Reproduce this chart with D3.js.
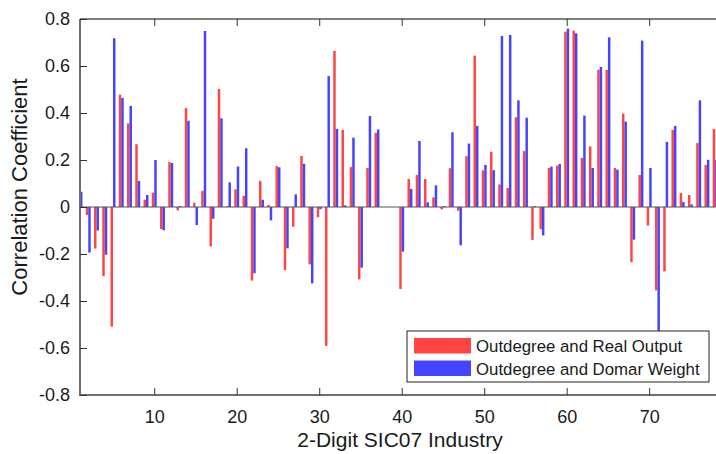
<!DOCTYPE html>
<html>
  <head>
    <meta charset="utf-8">
    <title>Correlation by industry</title>
    <style>
      body { margin: 0; background: #fff; }
      text { font-family: "Liberation Sans", Arial, Helvetica, sans-serif; fill: #1a1a1a; }
    </style>
  </head>
  <body>
    <script src="https://d3js.org/d3.v7.min.js"></script>
    <svg id="chart" width="716" height="454"></svg>
    <script>

      // Data: 2-digit SIC07 industries 1..78
      var industries = d3.range(1, 79);

      // Outdegree and Real Output (red)
      var realOutput = [
        0, -0.034, -0.177, -0.294, -0.509, 0.478, 0.356, 0.267, 0.031, 0.061,
        -0.094, 0.191, -0.014, 0.421, 0.018, 0.069, -0.168, 0.502, 0.004, 0.075,
        0.048, -0.313, 0.111, 0.009, 0.174, -0.268, -0.084, 0.217, -0.244, -0.043,
        -0.591, 0.664, 0.328, 0.170, -0.308, 0.166, 0.316, 0, 0, -0.349,
        0.119, 0.136, 0.119, 0.041, -0.010, 0.165, -0.016, 0.216, 0.644, 0.156,
        0.235, 0.096, 0.081, 0.382, 0.238, -0.140, -0.094, 0.166, 0.176, 0.746,
        0.750, 0.209, 0.258, 0.584, 0.583, 0.166, 0.397, -0.235, 0.136, -0.079,
        -0.355, -0.274, 0.328, 0.060, 0.051, 0.272, 0.179, 0.332
      ];

      // Outdegree and Domar Weight (blue)
      var domarWeight = [
        0.065, -0.194, -0.100, -0.203, 0.718, 0.464, 0.430, 0.111, 0.051, 0.200,
        -0.099, 0.187, 0.004, 0.367, -0.077, 0.749, -0.050, 0.377, 0.105, 0.172,
        0.250, -0.282, 0.031, -0.057, 0.169, -0.176, 0.054, 0.184, -0.325, -0.009,
        0.557, 0.332, 0.007, 0.295, -0.258, 0.387, 0.330, 0, 0, -0.190,
        0.077, 0.281, 0.020, 0.092, 0.004, 0.318, -0.163, 0.270, 0.345, 0.179,
        0.157, 0.728, 0.732, 0.454, 0.380, 0.004, -0.121, 0.172, 0.183, 0.759,
        0.739, 0.389, 0.166, 0.596, 0.722, 0.159, 0.363, -0.139, 0.708, 0.166,
        -0.56, 0.277, 0.345, 0.021, 0.011, 0.454, 0.201, 0.2
      ];

      var xTicks = [10, 20, 30, 40, 50, 60, 70];
      var yTicks = [-0.8, -0.6, -0.4, -0.2, 0, 0.2, 0.4, 0.6, 0.8];

      var seriesNames = ["Outdegree and Real Output", "Outdegree and Domar Weight"];
      var seriesColors = ["#ff4444", "#4444ff"];

      // The svg
      var svg = d3.select("#chart");
      var pLeft = 80, pRight = 716, pTop = 19, pBottom = 395;

      var x = d3.scaleLinear().domain([1, 78.1]).range([pLeft, pRight]);
      var y = d3.scaleLinear().domain([-0.8, 0.8]).range([pBottom, pTop]);
      var barW = 0.3;

      svg.append("defs").append("clipPath").attr("id", "plot")
        .append("rect")
          .attr("x", pLeft).attr("y", pTop)
          .attr("width", pRight - pLeft).attr("height", pBottom - pTop);

      var plot = svg.append("g").attr("clip-path", "url(#plot)");

      // red bars sit left of the industry, blue bars right of it
      [realOutput, domarWeight].forEach(function (vals, s) {
        plot.append("g")
          .selectAll("rect")
          .data(industries)
          .enter()
          .append("rect")
            .attr("x", function (d) { return s === 0 ? x(d - barW) : x(d); })
            .attr("width", x(1 + barW) - x(1))
            .attr("y", function (d, i) { return y(Math.max(0, vals[i])); })
            .attr("height", function (d, i) { return Math.abs(y(vals[i]) - y(0)); })
            .attr("fill", seriesColors[s]);
      });

      // baseline at zero
      plot.append("line")
        .attr("x1", pLeft).attr("x2", pRight)
        .attr("y1", y(0)).attr("y2", y(0))
        .attr("stroke", "#555").attr("stroke-width", 1.2);

      // frame
      svg.append("line")
        .attr("x1", pLeft).attr("x2", pRight).attr("y1", pTop).attr("y2", pTop)
        .attr("stroke", "#000").attr("stroke-width", 1);
      svg.append("line")
        .attr("x1", pLeft).attr("x2", pRight).attr("y1", pBottom).attr("y2", pBottom)
        .attr("stroke", "#6e6e6e").attr("stroke-width", 2);
      svg.append("line")
        .attr("x1", pLeft).attr("x2", pLeft).attr("y1", pTop).attr("y2", pBottom + 1)
        .attr("stroke", "#6e6e6e").attr("stroke-width", 2);

      // x axis ticks (bottom and top, pointing inward)
      svg.append("g").attr("transform", "translate(0," + pBottom + ")")
        .call(d3.axisBottom(x).tickValues(xTicks).tickSize(-7).tickPadding(15).tickFormat(d3.format("d")));
      svg.append("g").attr("transform", "translate(0," + pTop + ")")
        .call(d3.axisTop(x).tickValues(xTicks).tickSize(-7).tickFormat(""));

      svg.append("g").attr("transform", "translate(" + pLeft + ",0)")
        .call(d3.axisLeft(y).tickValues(yTicks).tickSize(-7).tickPadding(10)
          .tickFormat(function (d) { return d === 0 ? "0" : d.toFixed(1); }));

      svg.selectAll(".domain").remove();
      svg.selectAll(".tick line").attr("stroke", "#333");
      svg.selectAll(".tick text")
        .attr("font-size", 18)
        .attr("fill", "#1a1a1a")
        .style("font-family", "'Liberation Sans', Arial, sans-serif");

      // axis titles
      svg.append("text")
        .attr("x", 400)
        .attr("y", 447)
        .attr("text-anchor", "middle")
        .attr("font-size", 21)
        .text("2-Digit SIC07 Industry");

      svg.append("text")
        .attr("transform", "translate(27,187) rotate(-90)")
        .attr("text-anchor", "middle")
        .attr("font-size", 22)
        .text("Correlation Coefficient");

      // legend
      var legend = svg.append("g").attr("transform", "translate(407,331)");
      legend.append("rect")
        .attr("width", 302).attr("height", 51)
        .attr("fill", "#fff").attr("stroke", "#222").attr("stroke-width", 1);
      seriesNames.forEach(function (name, i) {
        legend.append("rect")
          .attr("x", 7).attr("y", 7 + i * 22.5)
          .attr("width", 57).attr("height", 15.5)
          .attr("fill", seriesColors[i]);
        legend.append("text")
          .attr("x", 69).attr("y", 21 + i * 22.5)
          .attr("font-size", 16.8)
          .text(name);
      });
    </script>
  </body>
</html>
